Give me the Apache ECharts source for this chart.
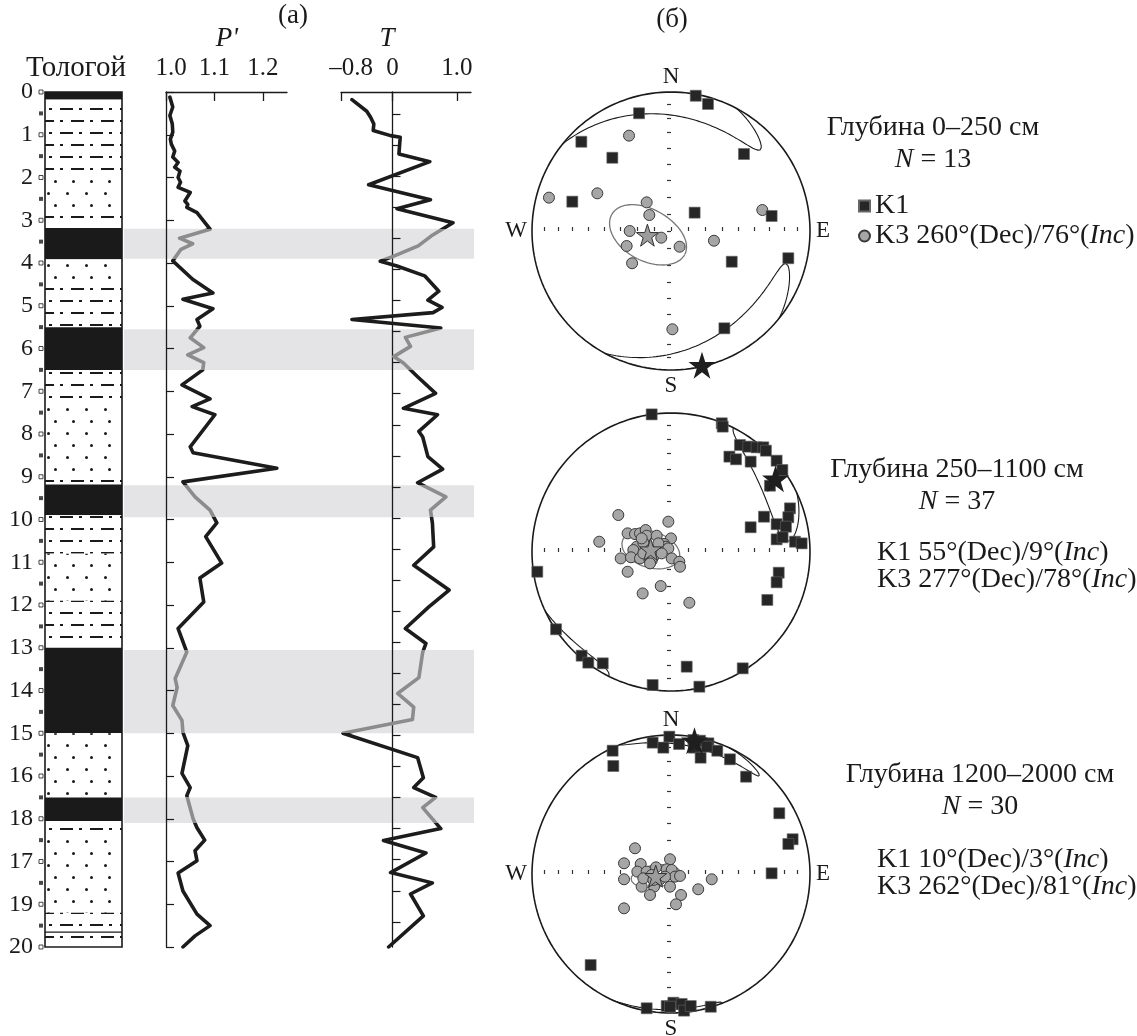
<!DOCTYPE html>
<html>
<head>
<meta charset="utf-8">
<script src="https://cdn.jsdelivr.net/npm/echarts@6/dist/echarts.min.js"></script>
<style>
  html, body { margin: 0; padding: 0; background: #fff; }
  #chart { width: 1137px; height: 1036px; }
</style>
</head>
<body>
<div id="chart"></div>
<script>
// depth labels as printed (17 and 18 are swapped in the original figure)
const depthLabels = ['0','1','2','3','4','5','6','7','8','9','10','11','12','13','14','15','16','18','17','19','20'];

// lithology column: bottom of each layer (m) and its kind
const layerBottom = [0.18, 1.85, 2.9, 3.18, 3.92, 4.4, 5.5, 6.5, 7.3, 9.0, 9.18, 9.9, 10.8, 11.9, 13.0, 15.0, 16.5, 17.05, 17.35, 19.2, 19.65, 20.0];
const layerKind   = ['soil','dash','dot','dash','soil','dot','dash','soil','dash','dot','dash','soil','dash','dot','dash','soil','dot','soil','dash','dot','dash','dash'];
const layerLines  = [19.65];

// paleosol bands (m)
const grayBands = [[3.2, 3.9], [5.55, 6.5], [9.2, 9.95], [13.05, 15.0], [16.5, 17.1]];

// P' profile
const pDepth = [0.12,0.35,0.55,0.75,0.94,1.10,1.22,1.38,1.52,1.65,1.76,1.85,2.00,2.11,2.23,2.35,2.55,2.63,2.70,2.82,3.21,3.42,3.55,3.68,3.95,4.38,4.70,4.85,5.07,5.32,5.48,5.75,5.98,6.15,6.33,6.50,6.85,7.18,7.36,7.55,8.30,8.44,8.80,9.12,9.47,9.78,10.08,10.40,11.02,11.37,11.93,12.55,13.10,13.72,13.93,14.35,14.70,14.98,15.29,15.94,16.27,16.46,17.00,17.21,17.50,17.75,17.98,18.27,18.69,19.23,19.50,19.74,20.00];
const pValue = [1.008,1.014,1.008,1.013,1.014,1.009,1.011,1.018,1.014,1.025,1.018,1.029,1.025,1.030,1.025,1.050,1.039,1.045,1.043,1.064,1.091,1.028,1.055,1.031,1.014,1.055,1.097,1.035,1.097,1.064,1.070,1.050,1.078,1.045,1.078,1.076,1.033,1.091,1.054,1.101,1.050,1.056,1.229,1.035,1.060,1.091,1.105,1.082,1.115,1.070,1.078,1.025,1.043,1.019,1.023,1.014,1.033,1.035,1.045,1.033,1.050,1.043,1.056,1.064,1.080,1.060,1.064,1.025,1.035,1.064,1.091,1.060,1.035];

// T profile
const tDepth = [0.18,0.45,0.59,0.75,0.90,1.02,1.06,1.45,1.63,2.17,2.52,2.73,3.06,3.37,3.60,3.84,3.96,4.07,4.30,4.66,4.87,5.04,5.16,5.32,5.52,5.74,5.95,6.19,6.34,6.66,7.05,7.40,7.55,7.94,8.07,8.53,8.82,9.14,9.47,9.78,10.08,10.64,11.07,11.65,12.05,12.55,12.90,13.10,13.70,14.07,14.39,14.68,15.00,15.57,16.04,16.27,16.50,16.74,17.23,17.51,17.80,18.26,18.50,18.76,19.27,20.00];
const tValue = [-0.63,-0.40,-0.34,-0.29,-0.30,-0.03,0.12,0.10,0.58,-0.37,0.59,0.07,0.94,0.60,0.40,0.02,-0.19,0.07,0.50,0.72,0.55,0.77,0.63,-0.63,0.75,0.20,0.28,0.02,0.17,0.39,0.67,0.17,0.70,0.41,0.47,0.55,0.78,0.39,0.83,0.59,0.62,0.64,0.33,0.88,0.56,0.20,0.52,0.47,0.41,0.08,0.33,0.31,-0.77,0.39,0.48,0.33,0.67,0.47,0.75,-0.14,0.52,-0.03,0.62,0.28,0.48,-0.06];

// stereonet points, [east, north] on the equal-area net (unit radius)
const net1K1 = [[0.178,0.973],[0.266,0.914],[-0.23,0.847],[-0.645,0.642],[-0.422,0.527],[0.525,0.554],[-0.71,0.211],[0.17,0.132],[0.724,0.108],[0.437,-0.221],[0.844,-0.196],[0.384,-0.7]];
const net1K3 = [[-0.302,0.686],[-0.878,0.24],[-0.53,0.271],[-0.175,0.206],[-0.156,0.115],[-0.297,0],[-0.07,-0.048],[-0.319,-0.108],[0.062,-0.113],[-0.28,-0.232],[0.309,-0.07],[0.657,0.151],[0.01,-0.707]];
const net2K1 = [[-0.139,0.99],[0.365,0.926],[0.372,0.902],[0.496,0.77],[0.556,0.758],[0.616,0.753],[0.664,0.753],[0.683,0.729],[0.42,0.686],[0.468,0.667],[0.573,0.65],[0.76,0.657],[0.801,0.59],[0.712,0.477],[0.856,0.314],[0.844,0.25],[0.669,0.254],[0.573,0.178],[0.76,0.2],[0.827,0.182],[0.76,0.091],[0.803,0.106],[0.892,0.074],[0.94,0.062],[0.775,-0.149],[0.76,-0.218],[0.693,-0.345],[-0.962,-0.142],[-0.827,-0.556],[-0.643,-0.746],[-0.595,-0.796],[-0.491,-0.801],[0.113,-0.825],[0.516,-0.837],[-0.132,-0.957],[0.204,-0.969]];
const net2K3 = [[-0.379,0.266],[-0.019,0.218],[-0.516,0.074],[-0.312,0.134],[-0.259,0.129],[-0.223,0.134],[-0.182,0.158],[-0.175,0.117],[-0.103,0.117],[0,0.098],[-0.247,0.038],[-0.199,0.067],[-0.05,0.058],[-0.038,0.038],[-0.019,0.026],[-0.271,0.014],[-0.362,-0.046],[-0.288,-0.038],[-0.223,-0.046],[-0.139,-0.062],[0.005,-0.046],[0.06,-0.07],[0.065,-0.106],[-0.312,-0.142],[-0.074,-0.245],[-0.204,-0.298],[0.132,-0.365],[-0.151,0.014],[-0.199,-0.01],[-0.091,0.062],[-0.127,-0.034],[-0.067,-0.01],[-0.211,0.098],[-0.151,-0.082]];
const net3K1 = [[-0.42,0.887],[-0.415,0.777],[-0.132,0.945],[-0.012,0.988],[-0.055,0.909],[0.058,0.935],[0.161,0.964],[0.209,0.959],[0.165,0.909],[0.269,0.94],[0.333,0.887],[0.213,0.837],[0.424,0.825],[0.54,0.7],[0.779,0.437],[0.875,0.25],[0.844,0.216],[0.724,0.005],[-0.578,-0.655],[-0.175,-0.966],[-0.031,-0.95],[0.017,-0.926],[0.077,-0.935],[0.094,-0.983],[0.142,-0.95],[0.286,-0.955],[0.257,0.916],[-0.007,-0.955]];
const net3K3 = [[-0.259,0.185],[-0.338,0.077],[-0.218,0.072],[-0.007,0.106],[-0.242,0.017],[-0.175,0.017],[-0.108,0.048],[-0.031,0.034],[0.005,0.029],[0.029,-0.019],[0.065,-0.014],[-0.338,-0.038],[-0.211,-0.091],[-0.122,-0.091],[-0.007,-0.091],[-0.151,-0.151],[0.072,-0.151],[0.196,-0.11],[0.293,-0.038],[0.036,-0.218],[-0.338,-0.247],[-0.139,-0.007],[-0.079,-0.038],[-0.043,-0.019],[-0.199,-0.031],[-0.127,-0.043]];

// mean directions [Dec, Inc] and confidence ellipses [semi-major°, semi-minor°, orientation°]
const k1Mean = [[167, 1], [55, 9], [10, 3]];
const k3Mean = [[260, 76], [277, 78], [262, 81]];
const k1Ellipse = [[62, 15, -73], [30, 12, 70], [32, 5, 84]];
const k3Ellipse = [[24.5, 15, -38], [17.5, 10.5, -10], [14.6, 6.4, 0]];

const netTitle = ['Глубина 0–250 см', 'Глубина 250–1100 см', 'Глубина 1200–2000 см'];
const netN = [13, 37, 30];

// ---------------------------------------------------------------
const SERIF = '"Liberation Serif", "Times New Roman", serif';
const FS = 24, FT = 28;
const TOP = 92, H = 855;
const NET_CX = 671, NET_CY = [231, 552, 874], NET_R = 139;
const rad = Math.PI / 180;
const STAR = 'path://M50,0 L61.8,35.4 L99,35.4 L69,57.3 L80.4,92.7 L50,70.8 L19.6,92.7 L31,57.3 L1,35.4 L38.2,35.4 Z';

function dirVec(dec, inc) {
  return [Math.cos(inc * rad) * Math.cos(dec * rad), Math.cos(inc * rad) * Math.sin(dec * rad), Math.sin(inc * rad)];
}
// lower hemisphere equal-area projection -> [east, north]
function project(v) {
  let [n, e, d] = v;
  const len = Math.hypot(n, e, d);
  n /= len; e /= len; d /= len;
  if (d < 0) { n = -n; e = -e; d = -d; }
  const h = Math.hypot(n, e);
  if (h < 1e-9) return [0, 0];
  const r = Math.sqrt(Math.max(0, 1 - d));
  return [r * e / h, r * n / h];
}
function edge(v) {
  const h = Math.hypot(v[0], v[1]);
  return [v[1] / h, v[0] / h];
}
// confidence cone around a mean direction, split where it crosses the primitive
function ellipsePts(mean, ell) {
  const [dec, inc] = mean, [e1, e2, psi] = ell;
  const m = dirVec(dec, inc);
  const D = dec * rad, I = inc * rad, P = psi * rad;
  const eDec = [-Math.sin(D), Math.cos(D), 0];
  const eInc = [-Math.sin(I) * Math.cos(D), -Math.sin(I) * Math.sin(D), Math.cos(I)];
  const u = eInc.map((c, i) => Math.cos(P) * c + Math.sin(P) * eDec[i]);
  const w = eInc.map((c, i) => -Math.sin(P) * c + Math.cos(P) * eDec[i]);
  const a = Math.tan(e1 * rad), b = Math.tan(e2 * rad);
  const out = [];
  let prev = null;
  for (let t = 0; t <= 360; t += 1) {
    const p = m.map((c, i) => c + a * Math.cos(t * rad) * u[i] + b * Math.sin(t * rad) * w[i]);
    if (prev && (prev[2] >= 0) !== (p[2] >= 0)) {
      const s = prev[2] / (prev[2] - p[2]);
      const pc = prev.map((c, i) => c + s * (p[i] - c));
      const neg = pc.map(c => -c);
      out.push(edge(prev[2] >= 0 ? pc : neg));
      out.push(['-', '-']);
      out.push(edge(p[2] >= 0 ? pc : neg));
    }
    out.push(project(p));
    prev = p;
  }
  return out;
}

const circlePts = [];
for (let a = 0; a <= 360; a += 2) circlePts.push([Math.sin(a * rad), Math.cos(a * rad)]);
const netTicks = [0];
for (let inc = 10; inc <= 80; inc += 10) {
  const r = Math.sqrt(1 - Math.sin(inc * rad));
  netTicks.push(r, -r);
}
const tTicks = [];
for (let d = 0.516; d <= 20; d += 0.7268) tTicks.push(+d.toFixed(3));

// ---------------------------------------------------------------
const grids = [
  { left: 45, top: TOP, width: 77, height: H },     // 0 lithology
  { left: 37, top: TOP, width: 8, height: H },      // 1 depth marks
  { left: 124, top: TOP, width: 350, height: H },   // 2 gray bands
  { left: 166, top: TOP, width: 121, height: H },   // 3 P'
  { left: 341, top: TOP, width: 130, height: H }    // 4 T
];
NET_CY.forEach(cy => grids.push({ left: NET_CX - NET_R, top: cy - NET_R, width: 2 * NET_R, height: 2 * NET_R }));

const hidden = (extra) => Object.assign({ type: 'value', show: false, splitLine: { show: false } }, extra);
const depthAxis = (gi, extra) => Object.assign({
  type: 'value', gridIndex: gi, inverse: true, min: 0, max: 20, interval: 1,
  axisLabel: { show: false }, axisTick: { show: false }, axisLine: { show: false }, splitLine: { show: false }
}, extra);
const axisLabelStyle = { fontFamily: SERIF, fontSize: 25, color: '#1a1a1a' };
const shifted = { s: { fontFamily: SERIF, fontSize: 25, color: '#1a1a1a', padding: [0, 0, 0, 20] } };

const xAxis = [
  { type: 'category', gridIndex: 0, data: ['lith'], show: false },
  hidden({ gridIndex: 1, min: 0, max: 1 }),
  hidden({ gridIndex: 2, min: 0, max: 1 }),
  {
    type: 'value', gridIndex: 3, position: 'top', min: 1.0, max: 1.25, z: 1,
    axisLine: { lineStyle: { color: '#1a1a1a', width: 1.3 } },
    axisTick: { inside: true, length: 9, customValues: [1.0, 1.1, 1.2], lineStyle: { color: '#1a1a1a', width: 1.3 } },
    axisLabel: Object.assign({ customValues: [1.0, 1.1, 1.2], margin: 11, rich: { s: Object.assign({}, shifted.s, { padding: [0, 0, 0, 10] }) },
      formatter: v => v === 1 ? '{s|1.0}' : v.toFixed(1) }, axisLabelStyle),
    splitLine: { show: false }
  },
  {
    type: 'value', gridIndex: 4, position: 'top', min: -0.8, max: 1.22, z: 1,
    axisLine: { lineStyle: { color: '#1a1a1a', width: 1.3 } },
    axisTick: { inside: true, length: 9, customValues: [-0.8, 0, 1.0], lineStyle: { color: '#1a1a1a', width: 1.3 } },
    axisLabel: Object.assign({ customValues: [-0.8, 0, 1.0], margin: 11, rich: shifted,
      formatter: v => v < 0 ? '{s|–0.8}' : (v === 0 ? '0' : '1.0') }, axisLabelStyle),
    splitLine: { show: false }
  }
];
const yAxis = [
  depthAxis(0, { axisLabel: { show: true, margin: 12, formatter: v => depthLabels[v], fontFamily: SERIF, fontSize: FS, color: '#1a1a1a' } }),
  depthAxis(1),
  depthAxis(2),
  depthAxis(3, {
    z: 1,
    axisLine: { show: true, onZero: false, lineStyle: { color: '#1a1a1a', width: 1.3 } },
    axisTick: { show: true, inside: true, length: 8, lineStyle: { color: '#1a1a1a', width: 1.2 } }
  }),
  depthAxis(4, {
    z: 1,
    axisLine: { show: true, onZero: true, lineStyle: { color: '#1a1a1a', width: 1.3 } },
    axisTick: { show: true, inside: true, length: 8, customValues: tTicks, lineStyle: { color: '#1a1a1a', width: 1.2 } }
  })
];
for (let i = 0; i < 3; i++) {
  const gi = 5 + i;
  const netAxis = {
    type: 'value', gridIndex: gi, min: -1, max: 1,
    axisLine: { show: false, onZero: true },
    axisTick: { show: true, inside: true, length: 4, customValues: netTicks, lineStyle: { color: '#333', width: 1.2 } },
    axisLabel: { show: false }, splitLine: { show: false }
  };
  xAxis.push(Object.assign({}, netAxis));
  yAxis.push(Object.assign({}, netAxis, { axisTick: Object.assign({}, netAxis.axisTick, { inside: false }) }));
}

// ---------------------------------------------------------------
const series = [];

// gray paleosol bands across both profiles
series.push({
  type: 'custom', xAxisIndex: 2, yAxisIndex: 2, z: 0, silent: true,
  data: grayBands,
  renderItem: (params, api) => {
    const p0 = api.coord([0, api.value(0)]);
    const p1 = api.coord([1, api.value(1)]);
    return { type: 'rect', shape: { x: p0[0], y: p0[1], width: p1[0] - p0[0], height: p1[1] - p0[1] }, style: { fill: '#e4e4e6' } };
  },
  encode: { y: [0, 1] }
});

// lithology column (stacked layers)
const decals = {
  dash: { symbol: 'rect', symbolSize: 1, symbolKeepAspect: false, dashArrayX: [[13, 5.5, 2.2, 7.5], [2.2, 7.5, 13, 5.5]], dashArrayY: [1.8, 9.2], color: '#1a1a1a', backgroundColor: '#fff' },
  dot:  { symbol: 'circle', symbolSize: 1, dashArrayX: [[2.6, 15], [0, 8.8, 2.6, 6.2]], dashArrayY: [2.6, 8.7], color: '#1a1a1a', backgroundColor: '#fff' }
};
let prevBottom = 0;
layerBottom.forEach((b, i) => {
  const kind = layerKind[i];
  series.push({
    type: 'bar', stack: 'lith', xAxisIndex: 0, yAxisIndex: 0, barWidth: '100%', silent: true,
    data: [+(b - prevBottom).toFixed(3)],
    itemStyle: kind === 'soil' ? { color: '#1a1a1a' } : { color: '#fff', decal: decals[kind] }
  });
  prevBottom = b;
});
// column frame and marked boundaries
series.push({
  type: 'custom', xAxisIndex: 0, yAxisIndex: 0, silent: true, z: 4,
  data: layerLines.map(d => [0, d]),
  renderItem: (params, api) => {
    const cs = params.coordSys;
    const y = api.coord([0, api.value(1)])[1];
    const children = [{ type: 'line', shape: { x1: cs.x, y1: y, x2: cs.x + cs.width, y2: y }, style: { stroke: '#1a1a1a', lineWidth: 1.3 } }];
    if (params.dataIndex === 0) {
      children.push({ type: 'rect', shape: { x: cs.x, y: cs.y, width: cs.width, height: cs.height }, style: { fill: null, stroke: '#1a1a1a', lineWidth: 1.6 } });
    }
    return { type: 'group', children: children };
  }
});

// depth marks beside the column
const fullM = [], halfM = [];
for (let d = 0; d <= 20; d++) fullM.push([0.5, d]);
for (let d = 0; d < 20; d++) halfM.push([0.5, d + 0.5]);
series.push({ type: 'scatter', xAxisIndex: 1, yAxisIndex: 1, silent: true, symbol: 'rect', symbolSize: 4, data: fullM, itemStyle: { color: '#fff', borderColor: '#1a1a1a', borderWidth: 1 } });
series.push({ type: 'scatter', xAxisIndex: 1, yAxisIndex: 1, silent: true, symbol: 'rect', symbolSize: 4, data: halfM, itemStyle: { color: '#1a1a1a' } });

// profiles
const pIdx = series.length;
series.push({
  type: 'line', xAxisIndex: 3, yAxisIndex: 3, symbol: 'none', silent: true, z: 3,
  data: pDepth.map((d, i) => [pValue[i], d]),
  lineStyle: { width: 3.6, join: 'round', cap: 'round' }
});
const tIdx = series.length;
series.push({
  type: 'line', xAxisIndex: 4, yAxisIndex: 4, symbol: 'none', silent: true, z: 3,
  data: tDepth.map((d, i) => [tValue[i], d]),
  lineStyle: { width: 3.6, join: 'round', cap: 'round' }
});

// stereonets
const netK1 = [net1K1, net2K1, net3K1];
const netK3 = [net1K3, net2K3, net3K3];
for (let i = 0; i < 3; i++) {
  const ax = { xAxisIndex: 5 + i, yAxisIndex: 5 + i, silent: true, clip: false };
  series.push(Object.assign({ type: 'line', symbol: 'none', data: circlePts, lineStyle: { color: '#1a1a1a', width: 1.6 }, z: 3 }, ax));
  series.push(Object.assign({ type: 'line', symbol: 'none', data: ellipsePts(k1Mean[i], k1Ellipse[i]), lineStyle: { color: '#1a1a1a', width: 1.1 }, z: 3 }, ax));
  series.push(Object.assign({ type: 'line', symbol: 'none', data: ellipsePts(k3Mean[i], k3Ellipse[i]), lineStyle: { color: '#777', width: 1.3 }, z: 3 }, ax));
  series.push(Object.assign({ type: 'scatter', name: 'K3', symbol: 'circle', symbolSize: 11, data: netK3[i], itemStyle: { color: '#a6a6a6', borderColor: '#3a3a3a', borderWidth: 1, opacity: 1 }, z: 4 }, ax));
  series.push(Object.assign({ type: 'scatter', symbol: STAR, symbolSize: 22, data: [project(dirVec(k3Mean[i][0], k3Mean[i][1]))], itemStyle: { color: '#9c9c9c', borderColor: '#333', borderWidth: 1, opacity: 1 }, z: 5 }, ax));
  series.push(Object.assign({ type: 'scatter', name: 'K1', symbol: 'rect', symbolSize: 11, data: netK1[i], itemStyle: { color: '#262626', borderColor: '#666', borderWidth: 0.6, opacity: 1 }, z: 6 }, ax));
  series.push(Object.assign({ type: 'scatter', symbol: STAR, symbolSize: 27, data: [project(dirVec(k1Mean[i][0], k1Mean[i][1]))], itemStyle: { color: '#1e1e1e', opacity: 1 }, z: 7 }, ax));
}

// ---------------------------------------------------------------
function txt(x, y, text, opt) {
  opt = opt || {};
  const align = opt.align || 'center';
  const size = opt.size || FT;
  return {
    type: 'text', x: x, y: y, silent: true, z: 10,
    style: {
      text: text, fill: '#1a1a1a',
      font: (opt.italic ? 'italic ' : '') + size + 'px ' + SERIF,
      align: align, textAlign: align, verticalAlign: 'middle', textVerticalAlign: 'middle',
      rich: {
        i: { fontStyle: 'italic', fontFamily: SERIF, fontSize: size, fill: '#1a1a1a' },
        n: { fontFamily: SERIF, fontSize: size, fill: '#1a1a1a' }
      }
    }
  };
}
const graphic = [
  txt(293, 16, '(а)', { size: 27 }),
  txt(672, 20, '(б)', { size: 27 }),
  txt(227, 39, "P'", { italic: true, size: 27 }),
  txt(387, 39, 'T', { italic: true, size: 27 }),
  txt(76, 68, 'Тологой', { size: 29 })
];
// compass letters
[0, 2].forEach(i => {
  const cy = NET_CY[i];
  graphic.push(txt(NET_CX, cy - NET_R - 15, 'N', { size: 23 }));
  graphic.push(txt(NET_CX, cy + NET_R + 16, 'S', { size: 23 }));
  graphic.push(txt(NET_CX - NET_R - 16, cy, 'W', { size: 23 }));
  graphic.push(txt(NET_CX + NET_R + 13, cy, 'E', { size: 23 }));
});
// depth intervals
const titleX = [933, 957, 980];
const titleY = [128, 470, 775];
for (let i = 0; i < 3; i++) {
  graphic.push(txt(titleX[i], titleY[i], netTitle[i]));
  graphic.push(txt(titleX[i], titleY[i] + 32, '{i|N}{n| = ' + netN[i] + '}'));
}
const dirText = (k, d) => '{n|' + k + ' ' + d[0] + '°(Dec)/' + d[1] + '°(}{i|Inc}{n|)}';
graphic.push(txt(877, 553, dirText('K1', k1Mean[1]), { align: 'left' }));
graphic.push(txt(877, 580, dirText('K3', k3Mean[1]), { align: 'left' }));
graphic.push(txt(877, 860, dirText('K1', k1Mean[2]), { align: 'left' }));
graphic.push(txt(877, 887, dirText('K3', k3Mean[2]), { align: 'left' }));

const option = {
  backgroundColor: '#fff',
  animation: false,
  grid: grids,
  xAxis: xAxis,
  yAxis: yAxis,
  visualMap: {
    type: 'piecewise', show: false, dimension: 1, seriesIndex: [pIdx, tIdx],
    pieces: grayBands.map(([a, b]) => ({ gte: a, lt: b, color: '#8c8c8c' })),
    outOfRange: { color: '#1c1c1c' }
  },
  legend: {
    orient: 'vertical', left: 853, top: 187, itemWidth: 11, itemHeight: 11, itemGap: 2,
    selectedMode: false,
    data: [{ name: 'K1', icon: 'rect' }, { name: 'K3', icon: 'circle' }],
    formatter: name => name === 'K1' ? '{n|K1}' : dirText('K3', k3Mean[0]),
    textStyle: {
      fontFamily: SERIF, fontSize: FT, color: '#1a1a1a', lineHeight: 28,
      rich: { n: { fontFamily: SERIF, fontSize: FT, color: '#1a1a1a' }, i: { fontFamily: SERIF, fontSize: FT, fontStyle: 'italic', color: '#1a1a1a' } }
    }
  },
  graphic: graphic,
  series: series
};

const myChart = echarts.init(document.getElementById('chart'));
myChart.setOption(option);
window.addEventListener('resize', function () {
  myChart.resize();
});
</script>
</body>
</html>
